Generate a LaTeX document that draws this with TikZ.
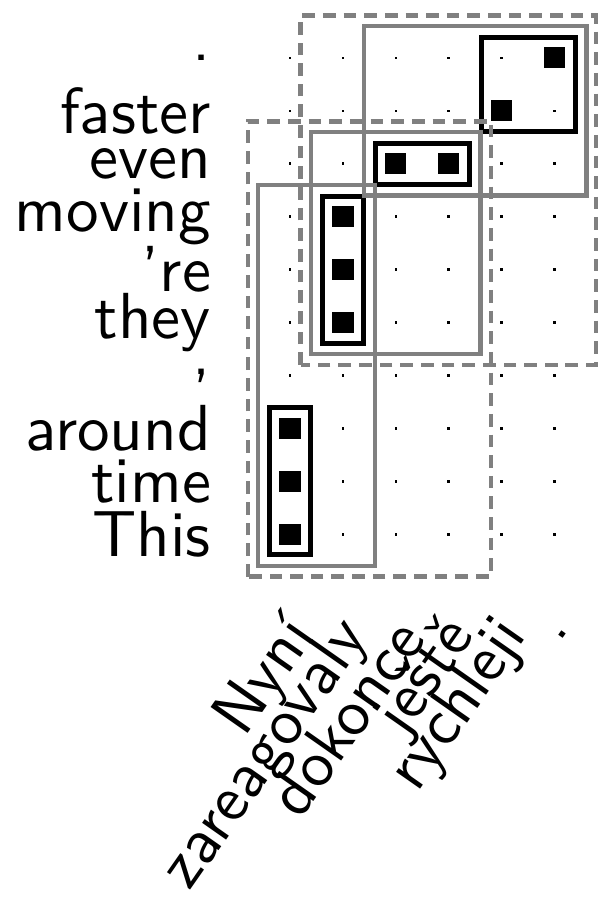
\documentclass[tikz,border=0pt]{standalone}
\usepackage{fontspec}
\newfontfamily\wordfont{lmsans10-regular.otf}[Ligatures=TeX]
\usepackage{tikz}
\usetikzlibrary{positioning}

\begin{document}
\begin{tikzpicture}[
    word/.style={font=\wordfont\fontsize{35}{40}\selectfont},
    srcword/.style={word, anchor=east},
    tgtword/.style={word, anchor=east, rotate=55},
    phrase/.style={draw=black, line width=2.7pt},
    block/.style={draw=gray, line width=2.3pt},
    bigblock/.style={block, dash pattern=on 6.8pt off 4.3pt}
  ]
    \useasboundingbox (-5.479,-6.929) rectangle (5.820,10.094);

    % grid of points
    \foreach \i in {0,...,5}
      \foreach \j in {0,...,9}
        \fill (\i-0.025,\j-0.025) rectangle (\i+0.025,\j+0.025);

    % English words (rows)
    \foreach \w [count=\j from 0] in {This,time,around,{,},they,'re,moving,even,faster,.}
      \node[srcword] (en\j) at (-1.37,\j) {\w};

    % Czech words (columns)
    \foreach \w [count=\i from 0] in {Nyní,zareagovaly,dokonce,ještě,rychleji,.}
      \node[tgtword] (cs\i) at (\i+0.32,-1.65) {\w};

    % alignment points
    \foreach \i/\j in {0/0,0/1,0/2,1/4,1/5,1/6,2/7,3/7,4/8,5/9}
      \fill (\i-0.2,\j-0.2) rectangle (\i+0.2,\j+0.2);

    % minimal phrase pairs
    \draw[phrase] (-0.39,-0.39) rectangle (0.39,2.39);
    \draw[phrase] (0.61,3.61) rectangle (1.39,6.39);
    \draw[phrase] (1.61,6.61) rectangle (3.39,7.39);
    \draw[phrase] (3.61,7.61) rectangle (5.39,9.39);

    % combined phrase pairs
    \draw[block] (-0.6,-0.6) rectangle (1.6,6.6);
    \draw[block] (0.4,3.4) rectangle (3.6,7.6);
    \draw[block] (1.4,6.4) rectangle (5.6,9.6);
    \draw[bigblock] (-0.8,-0.8) rectangle (3.8,7.8);
    \draw[bigblock] (0.2,3.2) rectangle (5.78,9.8);
  \end{tikzpicture}
\end{document}
